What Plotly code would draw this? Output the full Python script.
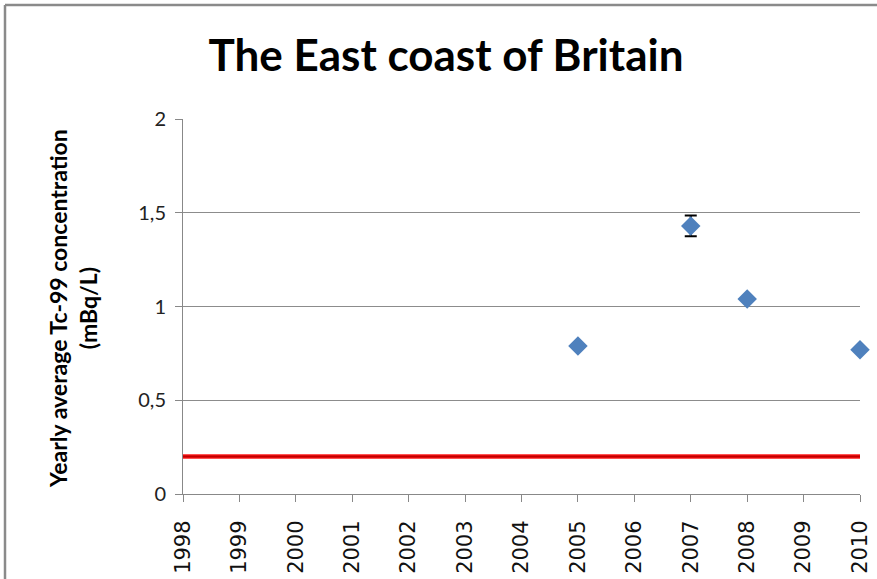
import plotly.graph_objects as go

# Measured yearly averages (mBq/L)
years = [2005, 2007, 2008, 2010]
tc99 = [0.79, 1.43, 1.04, 0.77]
tc99_err = [0, 0.055, 0, 0]

# Reference level across the whole period
ref_years = list(range(1998, 2011))
ref_level = [0.2] * len(ref_years)

tick_years = list(range(1998, 2011))
y_ticks = [0, 0.5, 1, 1.5, 2]
y_tick_text = ["0", "0,5", "1", "1,5", "2"]

# plot-area geometry in pixels
L, R, T, B = 183, 17, 119, 85
W, H = 877, 579
pw, ph = W - L - R, H - T - B


def px_x(px):
    return (px - L) / pw


def px_y(py):
    return (H - B - py) / ph


fig = go.Figure()

fig.add_trace(go.Scatter(
    x=ref_years, y=ref_level, mode="lines",
    line=dict(color="#ff1a1a", width=4.5), hoverinfo="skip", cliponaxis=False,
))
fig.add_trace(go.Scatter(
    x=ref_years, y=ref_level, mode="lines",
    line=dict(color="#c00000", width=2), hoverinfo="skip", cliponaxis=False,
))
fig.add_trace(go.Scatter(
    x=years, y=tc99, mode="markers",
    marker=dict(symbol="diamond", size=15, color="#4f81bd"),
    error_y=dict(type="data", array=tc99_err, color="black", thickness=2, width=6),
    cliponaxis=False,
))

fig.update_layout(
    width=W, height=H,
    margin=dict(l=L, r=R, t=T, b=B),
    paper_bgcolor="white", plot_bgcolor="white",
    showlegend=False,
    title=dict(
        text="<b>The East coast of Britain</b>",
        font=dict(family="Lato, Calibri, sans-serif", size=44, color="black"),
        x=446 / W, xanchor="center", xref="container",
        y=1 - 56 / H, yanchor="middle", yref="container",
    ),
    xaxis=dict(
        range=[1998, 2010], tickmode="array", tickvals=tick_years,
        ticktext=[str(y) for y in tick_years], tickangle=-90,
        tickfont=dict(family="DejaVu Sans, Verdana", size=21, color="#111111"),
        showgrid=False, zeroline=False, showline=True, linecolor="#888888", linewidth=1,
        ticks="outside", ticklen=7, tickcolor="#888888", automargin=False,
        ticklabelstandoff=10,
    ),
    yaxis=dict(
        range=[0, 2], tickmode="array", tickvals=y_ticks, ticktext=y_tick_text,
        tickfont=dict(family="Lato, Calibri, sans-serif", size=20, color="#222222"),
        showgrid=True, gridcolor="#8c8c8c", gridwidth=1,
        zeroline=False, showline=True, linecolor="#888888", linewidth=1,
        ticks="outside", ticklen=7, tickcolor="#888888", automargin=False,
        ticklabelstandoff=5,
    ),
    annotations=[dict(
        text="<b>Yearly average Tc-99 concentration<br>(mBq/L)</b>",
        xref="paper", yref="paper",
        x=px_x(73), y=px_y(308),
        xanchor="center", yanchor="middle", textangle=-90, showarrow=False,
        font=dict(family="Lato, Calibri, sans-serif", size=23, color="black"),
    )],
    shapes=[
        # chart frame: top and left edges
        dict(type="line", xref="paper", yref="paper",
             x0=px_x(5), x1=px_x(900), y0=px_y(5), y1=px_y(5),
             line=dict(color="#8a8a8a", width=2.5)),
        dict(type="line", xref="paper", yref="paper",
             x0=px_x(5), x1=px_x(5), y0=px_y(5), y1=px_y(620),
             line=dict(color="#8a8a8a", width=2.5)),
    ],
)

fig.write_html("out.html")
